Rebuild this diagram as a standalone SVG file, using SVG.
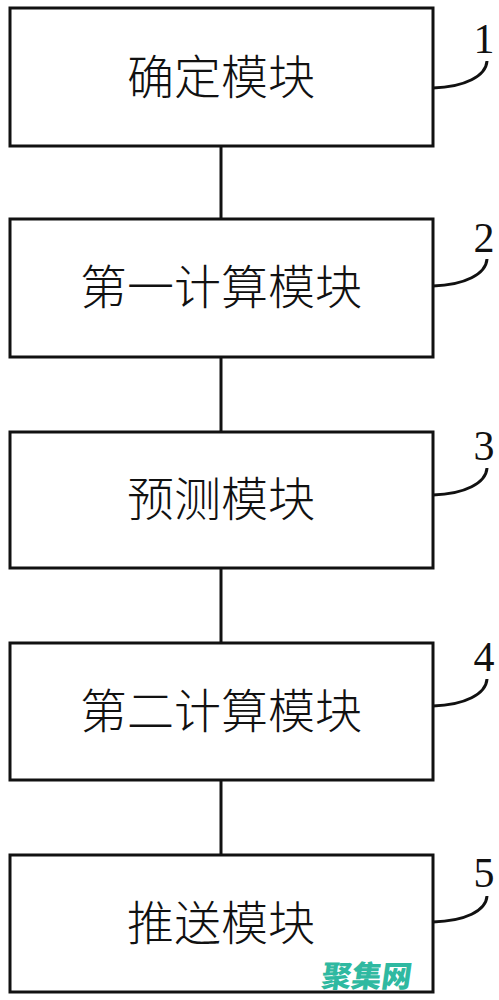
<svg xmlns="http://www.w3.org/2000/svg" width="499" height="1000" viewBox="0 0 499 1000">
<style>
.box{fill:#fff;stroke:#111;stroke-width:3}
.lbl{font-family:"Noto Sans CJK SC","Noto Sans",sans-serif;font-size:47px;font-weight:300;fill:#111;text-anchor:middle}
.num{font-family:"Liberation Serif",serif;font-size:42px;fill:#111;text-anchor:middle}
.lead{fill:none;stroke:#111;stroke-width:3}
.conn{stroke:#111;stroke-width:3}
.wm{font-family:"Noto Sans CJK SC",sans-serif;font-size:30px;font-weight:900;fill:#2fb9a1}
</style>
<rect width="499" height="1000" fill="#fff"/>
<g id="connectors">
<line class="conn" x1="221" y1="146" x2="221" y2="219"/>
<line class="conn" x1="221" y1="357" x2="221" y2="432"/>
<line class="conn" x1="221" y1="568" x2="221" y2="643"/>
<line class="conn" x1="221" y1="780" x2="221" y2="855"/>
</g>
<g id="node1">
<rect class="box" x="10" y="8" width="423" height="138"/>
<text class="lbl" x="221" y="94">确定模块</text>
<path class="lead" d="M433,88 C465,87 486,76 487,61"/>
<text class="num" x="484" y="53">1</text>
</g>
<g id="node2">
<rect class="box" x="10" y="219" width="423" height="138"/>
<text class="lbl" x="221" y="304">第一计算模块</text>
<path class="lead" d="M433,286 C465,285 486,274 487,259"/>
<text class="num" x="484" y="252">2</text>
</g>
<g id="node3">
<rect class="box" x="10" y="432" width="423" height="136"/>
<text class="lbl" x="221" y="516">预测模块</text>
<path class="lead" d="M433,495 C465,494 486,483 487,468"/>
<text class="num" x="484" y="460">3</text>
</g>
<g id="node4">
<rect class="box" x="10" y="643" width="423" height="137"/>
<text class="lbl" x="221" y="728">第二计算模块</text>
<path class="lead" d="M433,706 C465,705 486,694 487,679"/>
<text class="num" x="484" y="671">4</text>
</g>
<g id="node5">
<rect class="box" x="10" y="855" width="423" height="137"/>
<text class="lbl" x="221" y="940">推送模块</text>
<path class="lead" d="M433,922 C465,921 486,911 487,896"/>
<text class="num" x="484" y="887">5</text>
</g>
<text class="wm" x="320" y="987" transform="skewX(-8) translate(139,0)" textLength="90">聚集网</text>
</svg>
